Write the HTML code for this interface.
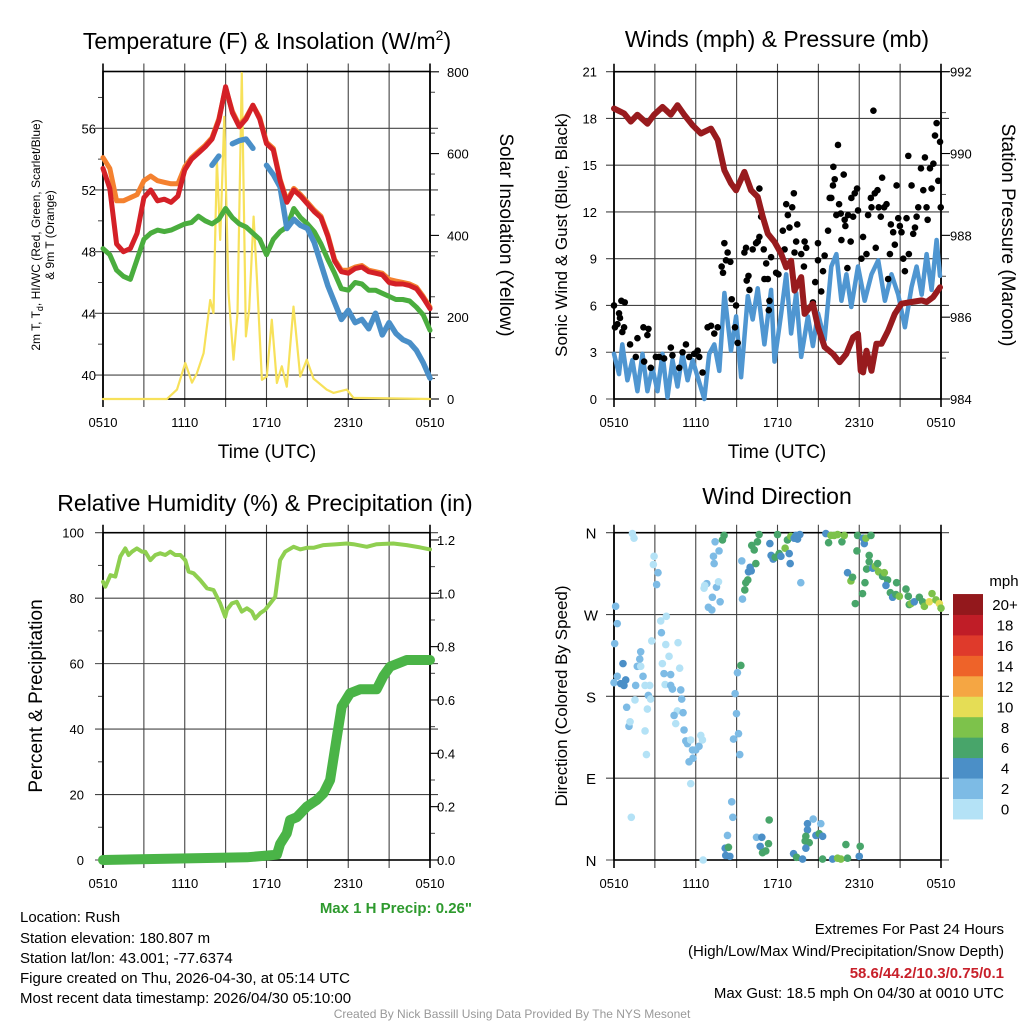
<!DOCTYPE html>
<html><head><meta charset="utf-8"><title>Mesonet Station Meteogram - Rush</title>
<style>
html,body{margin:0;padding:0;background:#fff;}
svg{display:block;font-family:"Liberation Sans",Arial,sans-serif;}
</style></head>
<body>
<svg id="root" width="1024" height="1024" viewBox="0 0 1024 1024" xmlns="http://www.w3.org/2000/svg">
<rect x="0" y="0" width="1024" height="1024" fill="#fff"/>
<text x="267" y="49" font-size="23" text-anchor="middle">Temperature (F) &amp; Insolation (W/m<tspan dy="-9" font-size="14">2</tspan><tspan dy="9">)</tspan></text>
<text x="777" y="47" font-size="23" text-anchor="middle">Winds (mph) &amp; Pressure (mb)</text>
<text x="265" y="511" font-size="23" text-anchor="middle">Relative Humidity (%) &amp; Precipitation (in)</text>
<text x="777" y="504" font-size="23" text-anchor="middle">Wind Direction</text>
<text x="267" y="458" font-size="19" text-anchor="middle">Time (UTC)</text>
<text x="777" y="458" font-size="19" text-anchor="middle">Time (UTC)</text>
<text transform="translate(40,235) rotate(-90)" font-size="12" text-anchor="middle">2m T, T<tspan dy="3" font-size="9">d</tspan><tspan dy="-3">, HI/WC (Red, Green, Scarlet/Blue)</tspan></text>
<text transform="translate(54,235) rotate(-90)" font-size="12" text-anchor="middle">&amp; 9m T (Orange)</text>
<text transform="translate(500,235) rotate(90)" font-size="19" text-anchor="middle">Solar Insolation (Yellow)</text>
<text transform="translate(567,235) rotate(-90)" font-size="17" text-anchor="middle">Sonic Wind &amp; Gust (Blue, Black)</text>
<text transform="translate(1002,235) rotate(90)" font-size="19" text-anchor="middle">Station Pressure (Maroon)</text>
<text transform="translate(42,696) rotate(-90)" font-size="19" text-anchor="middle">Percent &amp; Precipitation</text>
<text transform="translate(567,696) rotate(-90)" font-size="17" text-anchor="middle">Direction (Colored By Speed)</text>
<text x="472" y="913" font-size="15" font-weight="bold" fill="#2e9a2e" text-anchor="end">Max 1 H Precip: 0.26"</text>
<g font-size="15">
<text x="20" y="922">Location: Rush</text>
<text x="20" y="943">Station elevation: 180.807 m</text>
<text x="20" y="963">Station lat/lon: 43.001; -77.6374</text>
<text x="20" y="983">Figure created on Thu, 2026-04-30, at 05:14 UTC</text>
<text x="20" y="1003">Most recent data timestamp: 2026/04/30 05:10:00</text>
</g>
<g font-size="15" text-anchor="end">
<text x="1004" y="934">Extremes For Past 24 Hours</text>
<text x="1004" y="956">(High/Low/Max Wind/Precipitation/Snow Depth)</text>
<text x="1004" y="978" font-weight="bold" fill="#c8202a">58.6/44.2/10.3/0.75/0.1</text>
<text x="1004" y="998">Max Gust: 18.5 mph On 04/30 at 0010 UTC</text>
</g>
<text x="512" y="1018" font-size="12" fill="#999" text-anchor="middle">Created By Nick Bassill Using Data Provided By The NYS Mesonet</text>
<text x="1004" y="586" font-size="15" text-anchor="middle">mph</text>
</svg>
<script>
// ---------- DATA ----------
const timeTickLabels = ["0510","1110","1710","2310","0510"];
const temp2m = [53.4,52.1,48.5,48.0,48.2,49.2,51.5,52.0,51.3,51.4,51.2,51.6,53.3,54.0,54.4,54.8,55.3,56.5,58.7,57.0,56.1,56.6,57.5,56.6,55.0,54.6,52.6,51.2,52.0,51.6,51.1,50.6,50.2,49.0,47.4,46.7,46.6,46.9,47.0,46.7,46.6,46.5,46.0,45.9,45.9,45.8,45.6,45.0,44.3];
const temp9m = [54.1,53.4,51.3,51.3,51.5,51.7,52.6,52.9,52.6,52.5,52.4,52.4,53.5,54.1,54.5,54.9,55.4,56.6,58.6,57.1,56.2,56.7,57.5,56.7,55.1,54.7,52.7,51.3,52.1,51.7,51.2,50.7,50.3,49.1,47.5,46.8,46.8,47.0,47.1,46.8,46.7,46.6,46.2,46.1,46.0,45.9,45.7,45.1,44.4];
const heatIndex = [48.2,47.8,46.8,46.4,46.2,47.5,48.8,49.2,49.4,49.3,49.4,49.6,49.8,49.9,50.3,50.0,49.8,50.1,50.8,50.2,49.8,49.6,49.2,48.8,47.8,48.8,49.3,49.6,50.8,50.2,49.8,49.3,48.5,47.5,46.6,45.6,45.5,46.0,45.9,45.5,45.5,45.3,45.1,44.9,44.9,44.8,44.4,43.9,42.9];
const windChill = [null,null,null,null,null,null,null,null,null,null,null,null,null,null,null,null,53.6,54.2,null,55.0,55.2,55.3,54.7,null,53.6,53.0,52.2,49.5,50.1,49.7,49.5,48.6,47.2,45.8,44.7,43.6,44.2,43.4,43.6,43.0,44.0,42.6,43.4,42.7,42.3,42.1,41.6,40.8,39.8];
const tempTicks = [40,44,48,52,56];
const solarTicks = [0,200,400,600,800];
const solarHours = [0,4.69,5.43,6.04,6.53,6.89,7.38,7.87,8.11,8.36,8.6,8.9,9.21,9.58,9.87,10.19,10.49,10.73,11.05,11.29,11.66,12.02,12.39,12.76,13.12,13.49,13.98,14.47,14.96,15.45,16.42,16.91,17.89,18.38,24];
const solarValues = [0,0,23,88,40,63,112,242,210,584,389,690,260,96,210,797,153,220,446,300,47,55,194,39,80,30,226,55,96,50,23,15,23,3,0];
const windTicks = [0,3,6,9,12,15,18,21];
const pressTicks = [984,986,988,990,992];
const pressHours = [0,0.74,1.23,1.72,2.45,2.94,3.56,4.17,4.66,5.15,5.77,6.38,7.12,7.61,8.1,8.59,8.96,9.57,10.06,10.55,10.92,11.29,11.78,12.27,12.64,13.0,13.25,13.74,13.99,14.6,14.97,15.46,16.07,16.56,17.05,17.55,17.91,18.11,18.28,18.53,18.9,19.26,19.63,20.12,20.61,21.1,21.84,22.58,22.94,23.43,23.93];
const pressValues = [991.1,990.98,990.78,990.95,990.73,990.95,991.14,990.95,991.18,990.95,990.69,990.49,990.61,990.33,989.59,989.27,989.1,989.55,989.1,988.94,988.45,988.04,987.84,987.55,987.22,987.38,986.65,986.98,986.08,986.33,985.76,985.27,985.1,984.9,985.1,985.51,985.59,984.69,984.65,985.18,984.69,985.35,985.35,985.67,986.08,986.33,986.37,986.41,986.37,986.49,986.73];
const windHours = [0,0.37,0.61,0.98,1.35,1.72,2.09,2.45,2.82,3.19,3.56,3.93,4.29,4.66,5.03,5.4,5.77,6.14,6.63,6.99,7.36,7.73,8.1,8.59,8.96,9.33,9.82,10.18,10.55,11.04,11.53,11.78,12.27,12.64,13.0,13.37,13.74,14.23,14.6,14.97,15.46,15.95,16.32,16.69,17.06,17.42,17.91,18.4,18.9,19.39,19.88,20.37,20.86,21.35,21.84,22.21,22.58,22.94,23.31,23.68,23.93];
const windSpeeds = [2.9,1.6,3.5,1.2,2.5,0.5,2.9,0.5,2.0,0.5,2.9,0.1,2.5,0.8,2.9,1.2,2.5,1.4,0,2.9,3.5,1.8,6.8,3.1,5.3,1.4,6.6,5.1,7.1,3.5,7.0,2.4,5.5,8.0,4.2,6.8,2.7,5.3,3.4,5.5,3.8,8.5,9.3,6.3,8.0,5.9,8.5,6.3,8.0,8.9,6.3,8.0,6.7,4.6,7.2,8.5,6.7,9.3,7.0,10.2,7.9];
const gustHours = [0,0.07,0.25,0.37,0.44,0.54,0.79,0.74,0.61,1.18,1.6,1.72,2.16,2.45,2.53,2.21,2.7,3.07,3.31,3.68,4.17,4.29,4.79,5.03,5.28,5.52,5.89,6.14,6.26,6.5,6.87,7.12,7.36,7.61,7.9,8.0,8.1,8.22,8.34,8.54,8.64,8.96,8.88,9.08,9.74,9.87,9.57,9.69,9.94,10.18,10.43,10.55,10.67,10.67,10.8,10.99,11.17,11.04,11.29,11.41,11.36,11.53,11.9,12.07,12.39,12.52,12.64,12.76,12.88,13.08,13.2,13.25,13.37,13.45,13.74,13.94,13.99,14.11,14.6,14.77,14.97,14.97,15.21,15.34,15.46,15.71,15.83,15.95,16.07,16.1,16.2,16.32,16.44,16.52,16.64,16.69,16.86,16.93,16.98,17.13,17.18,17.37,17.42,17.55,17.67,17.84,17.91,18.16,18.28,18.53,18.65,18.85,18.9,19.04,19.14,19.21,19.34,19.43,19.58,19.68,19.83,20.0,20.12,20.25,20.32,20.49,20.61,20.74,20.86,20.98,21.1,21.23,21.35,21.47,21.6,21.64,21.84,21.96,22.09,22.21,22.33,22.53,22.7,22.82,22.94,23.02,23.19,23.31,23.44,23.56,23.68,23.8,23.93,23.98];
const gustSpeeds = [6.0,4.6,4.8,5.5,5.2,6.3,6.2,4.6,4.3,3.5,2.7,3.9,4.6,4.1,4.5,2.4,2.0,2.7,2.7,2.6,3.3,2.8,2.0,3.0,3.5,2.7,2.9,3.1,2.7,1.7,4.6,4.7,4.2,4.6,8.5,8.1,10.0,8.9,9.4,8.8,6.4,6.0,4.6,3.6,7.6,7.9,9.4,9.7,7.0,9.6,10.0,10.1,13.5,10.4,11.7,9.6,8.7,7.7,7.7,6.3,5.7,9.1,8.1,8.0,10.8,9.6,12.5,11.8,11.0,12.3,13.2,9.4,10.1,11.2,9.3,8.5,10.1,9.7,6.2,7.5,10.0,8.9,6.9,8.2,9.2,10.8,12.9,12.9,13.7,14.9,14.1,11.8,16.3,12.5,11.9,10.2,14.4,11.5,11.1,8.4,11.8,10.1,12.9,11.7,13.2,13.5,12.1,9.0,10.4,9.3,11.8,12.9,12.3,18.5,13.2,9.7,13.4,12.3,11.7,14.2,12.3,12.5,7.7,9.3,11.2,10.7,9.9,13.7,11.6,11.1,10.7,9.0,8.2,11.6,15.6,9.3,13.7,10.6,11.0,11.7,12.3,14.8,13.4,15.5,12.3,11.5,14.8,13.5,15.1,16.9,17.7,14.0,16.5,12.3];
const rhTicks = [0,20,40,60,80,100];
const precipTicks = ["0.0","0.2","0.4","0.6","0.8","1.0","1.2"];
const rhHours = [0,0.17,0.54,0.9,1.27,1.64,1.88,2.13,2.49,2.86,3.1,3.47,3.84,4.2,4.57,4.94,5.3,5.67,6.04,6.28,6.65,7.14,7.63,8.11,8.6,8.97,9.09,9.46,9.82,10.19,10.56,10.92,11.17,11.54,11.9,12.27,12.64,13.0,13.37,13.98,14.47,14.96,15.45,16.18,17.16,17.89,18.38,19.36,20.09,21.31,22.29,23.27,24];
const rhValues = [85,83.5,87,86.6,92.7,95.2,93.2,94.2,95.2,94.2,94.2,91.6,93.2,93.7,93.2,94.2,93.2,93.2,91.6,88.1,87.6,85.5,83,82.5,78.4,74.3,76.4,78.4,78.9,75.9,76.9,75.9,73.8,75.4,76.4,78.4,80.4,91.6,94.2,95.7,94.9,95.4,95.4,96.2,96.5,96.7,96.5,95.7,96.5,96.7,96.2,95.5,94.9];
const precipHours = [0,10.56,12.76,13.0,13.49,13.73,14.22,14.96,15.69,16.18,16.67,17.16,17.52,18.13,18.87,20.09,20.58,21.07,22.29,24];
const precipValues = [0,0.01,0.02,0.06,0.1,0.15,0.16,0.2,0.225,0.25,0.3,0.46,0.575,0.625,0.64,0.64,0.69,0.725,0.75,0.75];
const dirTickLabels = ["N","E","S","W","N"];
const dirHours = [1.35,1.47,2.94,2.89,3.23,3.13,0.12,0.24,0.05,0,0.24,0.49,0.73,0.86,0.66,1.71,1.96,1.89,1.96,2.13,1.59,2.28,2.62,2.52,2.69,1.54,0.93,1.10,1.18,2.28,2.45,2.38,2.77,3.43,3.84,3.48,3.80,4.04,4.70,3.55,3.67,4.16,3.75,4.16,4.29,4.82,4.90,4.97,4.65,4.41,4.53,5.07,5.14,5.27,5.39,5.63,5.76,6.00,6.24,6.37,6.49,5.51,5.80,5.63,1.27,6.54,6.61,6.81,6.66,6.93,7.18,7.22,7.52,7.67,7.79,7.35,7.30,7.42,7.71,7.96,8.08,9.38,9.43,9.60,9.67,9.82,9.87,9.99,10.07,10.41,10.11,10.29,10.53,10.65,11.44,11.53,11.68,11.83,12.00,12.12,12.25,12.56,12.73,12.86,12.93,12.98,13.22,13.35,13.47,13.64,13.71,15.55,15.75,15.92,16.16,16.41,16.73,16.90,17.14,17.39,17.51,17.71,17.83,17.88,18.29,18.37,18.42,18.49,18.24,18.73,18.86,18.54,18.73,18.98,19.18,19.35,19.42,19.71,19.84,20.08,19.96,20.74,20.28,20.45,20.69,20.94,21.43,21.60,21.67,21.80,22.04,22.41,22.65,22.78,23.14,23.34,23.63,23.88,24.0,9.31,9.06,8.89,8.99,9.14,8.77,9.23,8.64,8.72,8.33,8.16,8.40,8.20,8.50,11.39,10.46,10.85,11.34,10.73,10.90,11.14,13.18,13.40,13.84,14.20,14.62,15.18,14.20,14.08,14.03,14.33,14.82,15.06,15.31,14.08,15.31,16.04,16.41,16.65,17.02,17.14,18.0,18.07];
const dirDegrees = [359,354,334,325,316,303,279,260,238,195,202,194,192,198,216,213,213,221,229,202,192,192,192,181,177,176,168,147,152,142,166,116,241,263,268,250,237,224,239,216,205,204,193,192,188,211,187,177,164,159,150,162,143,131,128,132,121,121,125,137,132,108,112,84,47,0,299,304,302,278,275,289,300,306,284,326,334,350,340,352,357,329,287,297,305,308,317,322,318,326,346,341,350,358,348,335,331,333,358,337,334,343,352,337,326,356,354,357,353,358,305,359,349,357,357,358,350,357,316,307,311,282,340,357,354,348,305,354,293,335,357,320,328,321,323,326,317,312,316,308,302,305,294,289,292,290,298,290,281,282,284,289,284,279,284,293,286,282,277,214,206,183,161,139,133,116,64,47,27,13,14,5,4,44,25,25,18,15,8,10,7,3,1,40,45,40,33,26,21,19,27,29,26,13,1,1,2,1,17,2,4,15];
const dirSpeeds = [1,1,1,1,3,3,3,3,3,3,3,5,5,5,5,3,1,3,3,3,3,1,1,3,1,1,3,3,1,1,1,1,1,1,1,3,1,1,1,1,3,3,1,3,3,1,3,3,1,3,1,3,3,3,3,1,3,3,3,1,1,3,3,1,1,1,1,3,1,3,3,3,3,1,3,3,3,3,3,7,7,3,3,7,7,7,5,5,5,7,7,7,7,7,5,5,5,7,7,7,5,9,7,5,5,9,5,5,5,5,3,5,7,9,9,9,7,9,5,9,7,7,7,7,5,5,7,9,7,7,7,7,7,5,9,7,9,7,9,7,5,7,7,5,7,9,7,7,7,9,5,7,7,9,11,9,9,11,9,7,3,3,3,3,3,3,3,3,3,5,7,5,5,7,3,5,7,5,7,7,5,7,5,5,3,3,5,7,7,7,5,7,5,5,7,5,9,9,7,7,5,7,5];
const cbarLabels = ["0","2","4","6","8","10","12","14","16","18","20+"];
const cbarColors = ["#b4e2f6","#7dbbe5","#4b8fc7","#48a56a","#7dc24b","#e5dd55","#f5a643","#ee6329","#df3a2b","#c01d27","#93181c"];

// ---------- HELPERS ----------
const NS = "http://www.w3.org/2000/svg";
const root = document.getElementById("root");
function mk(tag, parent){ const e=document.createElementNS(NS,tag); (parent||root).appendChild(e); return e; }
const P1 = {x0:103,x1:430,y0:71.5,y1:399};
const P2 = {x0:614,x1:941,y0:71.7,y1:399};
const P3 = {x0:103,x1:430,y0:532.7,y1:860};
const P4 = {x0:614,x1:941,y0:532.7,y1:860};
function xs(P,h){ return P.x0 + h/24*(P.x1-P.x0); }
const yTemp = t => 128.3 + (56-t)*15.42;
const ySolar = w => 399 - w*0.409;
const yWind = v => 399 - v*(327.3/21);
const yPress = p => 399 - (p-984)*(327.3/8);
const yRH = v => 860 - v*3.273;
const yPrecip = v => 860 - v*266.7;
const yDir = d => 860 - d*(327.3/360);

function frame(P, name, hLines, rTicks, rMinor, lMinor){
  const g = mk("g");
  
  
  for(let k=0;k<=8;k++){
    const x = P.x0 + k*(P.x1-P.x0)/8;
    const l = mk("line", g);
    
    
    l.setAttribute("x1",x); l.setAttribute("x2",x); l.setAttribute("y1",P.y0-8); l.setAttribute("y2",P.y1+8);
    l.setAttribute("stroke", k==0||k==8 ? "#000":"#444"); l.setAttribute("stroke-width", k==0||k==8?1.6:1.1);
  }
  hLines.forEach(y=>{
    const l = mk("line", g);
    
    
    l.setAttribute("x1",P.x0-8); l.setAttribute("x2",P.x1+8); l.setAttribute("y1",y); l.setAttribute("y2",y);
    l.setAttribute("stroke","#444"); l.setAttribute("stroke-width",1.1);
  });
  (lMinor||[]).forEach(y=>{
    const l = mk("line", g);
    
    
    l.setAttribute("x1",P.x0-5); l.setAttribute("x2",P.x0); l.setAttribute("y1",y); l.setAttribute("y2",y);
    l.setAttribute("stroke","#444"); l.setAttribute("stroke-width",1);
  });
  (rTicks||[]).forEach(y=>{
    const l = mk("line", g);
    
    
    l.setAttribute("x1",P.x1); l.setAttribute("x2",P.x1+9); l.setAttribute("y1",y); l.setAttribute("y2",y);
    l.setAttribute("stroke","#000"); l.setAttribute("stroke-width",1.1);
  });
  (rMinor||[]).forEach(y=>{
    const l = mk("line", g);
    
    
    l.setAttribute("x1",P.x1); l.setAttribute("x2",P.x1+5); l.setAttribute("y1",y); l.setAttribute("y2",y);
    l.setAttribute("stroke","#444"); l.setAttribute("stroke-width",1);
  });
  const r = mk("rect", g);
  
  
  r.setAttribute("x",P.x0); r.setAttribute("y",P.y0); r.setAttribute("width",P.x1-P.x0); r.setAttribute("height",P.y1-P.y0);
  r.setAttribute("fill","none"); r.setAttribute("stroke","#000"); r.setAttribute("stroke-width",1.6);
  timeTickLabels.forEach((lab,i)=>{
    const t = mk("text", g);
    
    
    t.setAttribute("x", xs(P, i*6)); t.setAttribute("y", P.y1+28);
    t.setAttribute("font-size","13"); t.setAttribute("text-anchor","middle"); t.textContent = lab;
  });
}
function label(x,y,txt,anchor,name,size){
  const t = mk("text");
  
  
  t.setAttribute("x",x); t.setAttribute("y",y); t.setAttribute("font-size",size||13);
  t.setAttribute("text-anchor",anchor); t.textContent = txt;
}
function pathFrom(xsArr, ysArr){
  let d="", pen=false;
  for(let i=0;i<xsArr.length;i++){
    if(ysArr[i]===null||ysArr[i]===undefined){ pen=false; continue; }
    d += (pen?"L":"M")+xsArr[i].toFixed(1)+","+ysArr[i].toFixed(1);
    pen=true;
  }
  return d;
}
function line(d, color, w, name){
  const p = mk("path");
  
  
  p.setAttribute("d", d); p.setAttribute("fill","none"); p.setAttribute("stroke",color);
  p.setAttribute("stroke-width",w); p.setAttribute("stroke-linejoin","round"); p.setAttribute("stroke-linecap","round");
}

// ---------- PANEL 1 ----------
frame(P1, "temperature", tempTicks.map(yTemp), solarTicks.map(ySolar),
  [50,150,250,350,450,550,650,750].map(ySolar), [42,46,50,54,58].map(yTemp));
tempTicks.forEach(t=>label(96, yTemp(t)+5, String(t), "end", "temperature-tick-label"));
solarTicks.forEach(w=>label(447, ySolar(w)+5, String(w), "start", "solar-tick-label"));
const halfHours = temp2m.map((_,i)=>i*0.5);
line(pathFrom(solarHours.map(h=>xs(P1,h)), solarValues.map(ySolar)), "#f7e15a", 2.2, "solar-insolation-line");
line(pathFrom(halfHours.map(h=>xs(P1,h)), heatIndex.map(yTemp)), "#4aad3e", 5, "heat-index-line");
line(pathFrom(halfHours.map(h=>xs(P1,h)), windChill.map(v=>v===null?null:yTemp(v))), "#4a8fc8", 5.5, "wind-chill-line");
line(pathFrom(halfHours.map(h=>xs(P1,h)), temp9m.map(yTemp)), "#f4812f", 5, "temperature-9m-line");
line(pathFrom(halfHours.map(h=>xs(P1,h)), temp2m.map(yTemp)), "#d42027", 5, "temperature-2m-line");

// ---------- PANEL 2 ----------
frame(P2, "wind", windTicks.map(yWind), pressTicks.map(yPress),
  [985,987,989,991].map(yPress), []);
windTicks.forEach(v=>label(597, yWind(v)+5, String(v), "end", "wind-tick-label"));
pressTicks.forEach(p=>label(950, yPress(p)+5, String(p), "start", "pressure-tick-label"));
line(pathFrom(windHours.map(h=>xs(P2,h)), windSpeeds.map(yWind)), "#4f96d1", 4.5, "sonic-wind-line");
gustHours.forEach((h,i)=>{
  const c = mk("circle");
  
  
  c.setAttribute("cx", xs(P2,h)); c.setAttribute("cy", yWind(gustSpeeds[i])); c.setAttribute("r", 3.3); c.setAttribute("fill","#000");
});
line(pathFrom(pressHours.map(h=>xs(P2,h)), pressValues.map(yPress)), "#981b1e", 6, "pressure-line");

// ---------- PANEL 3 ----------
frame(P3, "humidity", rhTicks.map(yRH), precipTicks.map(v=>yPrecip(+v)),
  [0.1,0.3,0.5,0.7,0.9,1.1].map(yPrecip), [10,30,50,70,90].map(yRH));
rhTicks.forEach(v=>label(84, yRH(v)+5, String(v), "end", "humidity-tick-label"));
precipTicks.forEach(v=>label(437, yPrecip(+v)+5, v, "start", "precip-tick-label"));
line(pathFrom(rhHours.map(h=>xs(P3,h)), rhValues.map(yRH)), "#8fcf50", 4, "relative-humidity-line");
line(pathFrom(precipHours.map(h=>xs(P3,h)), precipValues.map(yPrecip)), "#4ab447", 10, "precipitation-line");

// ---------- PANEL 4 ----------
frame(P4, "direction", [0,90,180,270,360].map(yDir), [], [], []);
dirTickLabels.forEach((lab,i)=>label(591, yDir(i*90)+6, lab, "middle", "direction-tick-label", 15));
function speedColor(s){ return cbarColors[Math.min(10, Math.floor(s/2))]; }
dirHours.forEach((h,i)=>{
  const c = mk("circle");
  
  
  c.setAttribute("cx", xs(P4,h)); c.setAttribute("cy", yDir(dirDegrees[i])); c.setAttribute("r", 3.8);
  c.setAttribute("fill", speedColor(dirSpeeds[i]));
});
cbarColors.forEach((col,i)=>{
  const y = 819 - (i+1)*20.45;
  const r = mk("rect");
  
  
  r.setAttribute("x",953); r.setAttribute("y",y); r.setAttribute("width",30); r.setAttribute("height",20.9); r.setAttribute("fill",col);
  label(1005, y+16, cbarLabels[i], "middle", "colorbar-label", 15);
});
</script>
</body></html>
